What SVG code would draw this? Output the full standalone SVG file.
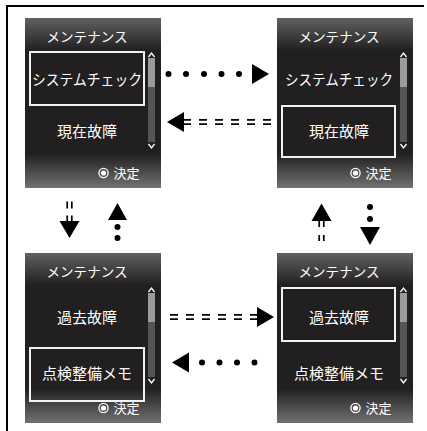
<svg xmlns="http://www.w3.org/2000/svg" width="427" height="431" viewBox="0 0 427 431">
<defs>
<linearGradient id="scr" x1="0" y1="0" x2="0" y2="1">
<stop offset="0" stop-color="#616161"/>
<stop offset="0.19" stop-color="#221f20"/>
<stop offset="0.8" stop-color="#221f20"/>
<stop offset="1" stop-color="#727272"/>
</linearGradient>
<g id="frame">
<rect x="0" y="0" width="136" height="170" fill="url(#scr)"/>
<text class="title" x="62" y="24" textLength="81" lengthAdjust="spacingAndGlyphs">メンテナンス</text>
<polyline class="caret" points="123.5,39 126.5,35 129.5,39"/>
<rect x="123" y="40" width="7" height="84" fill="#555555"/>
<rect x="123" y="40" width="7" height="29" fill="#9b9b9b"/>
<polyline class="caret" points="123.5,126 126.5,130 129.5,126"/>
<circle cx="78.5" cy="155" r="4.6" fill="none" stroke="#ffffff" stroke-width="1.3"/>
<circle cx="78.5" cy="155" r="2.6" fill="#ffffff"/>
<text class="ok" x="88.5" y="159.5">決定</text>
</g>
</defs>
<style>
text{font-family:"Noto Sans CJK JP","Noto Sans",sans-serif;fill:#ffffff}
.title{font-size:13.5px;text-anchor:middle}
.item{font-size:15px;text-anchor:middle}
.ok{font-size:13px}
.caret{fill:none;stroke:#ffffff;stroke-width:1.3}
.sel{fill:none;stroke:#f2f2f2;stroke-width:2}
.dot{fill:#000000}
.head{fill:#000000}
.dbl{stroke:#000000;stroke-width:1.7;fill:none}
</style>
<g id="border" fill="none" stroke="#000000" stroke-width="2">
<line x1="6" y1="6" x2="424" y2="6"/>
<line x1="7" y1="5" x2="7" y2="431"/>
</g>
<g id="screen-system-check" transform="translate(25,18)">
<use href="#frame"/>
<rect class="sel" x="5" y="34" width="114" height="53"/>
<text class="item" x="62" y="66.5" textLength="110" lengthAdjust="spacingAndGlyphs">システムチェック</text>
<text class="item" x="62" y="119">現在故障</text>
</g>
<g id="screen-current-fault" transform="translate(277,18)">
<use href="#frame"/>
<text class="item" x="62" y="66.5" textLength="108" lengthAdjust="spacingAndGlyphs">システムチェック</text>
<rect class="sel" x="5" y="88" width="113" height="51"/>
<text class="item" x="62" y="119">現在故障</text>
</g>
<g id="screen-memo" transform="translate(25,253)">
<use href="#frame"/>
<text class="item" x="62" y="69.5">過去故障</text>
<rect class="sel" x="5" y="95" width="114" height="53"/>
<text class="item" x="62" y="126">点検整備メモ</text>
</g>
<g id="screen-past-fault" transform="translate(277,253)">
<use href="#frame"/>
<rect class="sel" x="5" y="35" width="113" height="53"/>
<text class="item" x="62" y="69.5">過去故障</text>
<text class="item" x="62" y="126">点検整備メモ</text>
</g>
<g id="connectors">
<g id="top-right-dotted">
<circle class="dot" cx="168.5" cy="74" r="3"/>
<circle class="dot" cx="186" cy="74" r="3"/>
<circle class="dot" cx="204" cy="74" r="3"/>
<circle class="dot" cx="221.5" cy="74" r="3"/>
<circle class="dot" cx="239" cy="74" r="3"/>
<polygon class="head" points="252,64 252,84 269,74"/>
</g>
<g id="top-left-dashed">
<polygon class="head" points="167,122 184,112 184,132"/>
<line class="dbl" x1="183" y1="119.8" x2="271" y2="119.8" stroke-dasharray="8 8"/>
<line class="dbl" x1="183" y1="124.2" x2="271" y2="124.2" stroke-dasharray="8 8"/>
</g>
<g id="bottom-right-dashed">
<line class="dbl" x1="170" y1="314.8" x2="258" y2="314.8" stroke-dasharray="8 8"/>
<line class="dbl" x1="170" y1="319.2" x2="258" y2="319.2" stroke-dasharray="8 8"/>
<polygon class="head" points="257,307 257,327 274,317"/>
</g>
<g id="bottom-left-dotted">
<polygon class="head" points="172,362.5 189,352.5 189,372.5"/>
<circle class="dot" cx="202" cy="362.5" r="3"/>
<circle class="dot" cx="219.5" cy="362.5" r="3"/>
<circle class="dot" cx="237" cy="362.5" r="3"/>
<circle class="dot" cx="254.5" cy="362.5" r="3"/>
</g>
<g id="left-down-dashed">
<line class="dbl" x1="67.2" y1="201.5" x2="67.2" y2="222" stroke-dasharray="7 7"/>
<line class="dbl" x1="71.8" y1="201.5" x2="71.8" y2="222" stroke-dasharray="7 7"/>
<polygon class="head" points="59.5,221 79.5,221 69.5,238"/>
</g>
<g id="left-up-dotted">
<polygon class="head" points="108,220 127,220 117.5,203"/>
<circle class="dot" cx="117.5" cy="227" r="3"/>
<circle class="dot" cx="117.5" cy="238" r="3"/>
</g>
<g id="right-up-dashed">
<polygon class="head" points="311.5,221 331.5,221 321.5,203.5"/>
<line class="dbl" x1="319.2" y1="221" x2="319.2" y2="242" stroke-dasharray="6 8"/>
<line class="dbl" x1="323.8" y1="221" x2="323.8" y2="242" stroke-dasharray="6 8"/>
</g>
<g id="right-down-dotted">
<circle class="dot" cx="370" cy="207" r="3"/>
<circle class="dot" cx="370" cy="219" r="3"/>
<polygon class="head" points="360,227 380,227 370,245"/>
</g>
</g>
</svg>
